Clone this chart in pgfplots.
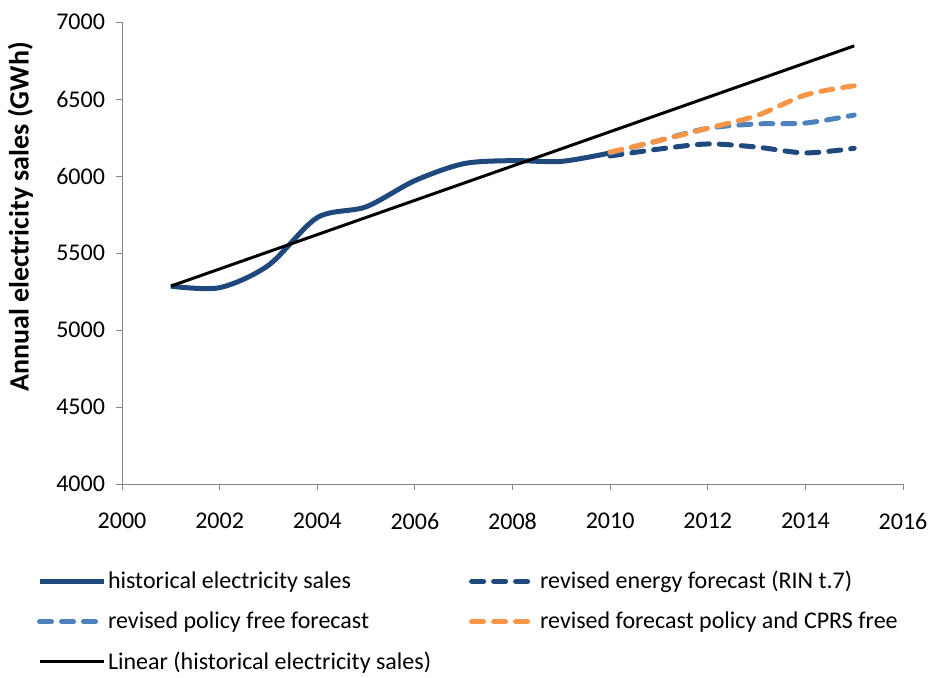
\documentclass[border=0pt]{standalone}
\usepackage{pgfplots}
\pgfplotsset{compat=1.18}
\usepackage{fontspec}
\setmainfont{Carlito}

\definecolor{histblue}{HTML}{1F497D}
\definecolor{lightblue}{HTML}{4F81BD}
\definecolor{forange}{HTML}{F79646}
\definecolor{axgray}{HTML}{868686}

\begin{document}
\begin{tikzpicture}[font=\fontsize{12}{14}\selectfont]
\useasboundingbox (-61pt,-96.5pt) rectangle (405pt,242pt);
\begin{axis}[
    at={(0pt,0pt)}, anchor=south west,
    scale only axis,
    width=390.5pt, height=231pt,
    xmin=2000, xmax=2016, ymin=4000, ymax=7000,
    xtick={2000,2002,...,2016},
    ytick={4000,4500,...,7000},
    x tick label style={/pgf/number format/1000 sep={}, yshift=-8pt},
    y tick label style={/pgf/number format/1000 sep={}, xshift=-2pt},
    /pgf/number format/assume math mode=true,
    axis x line=bottom, axis y line=left,
    axis line style={axgray, thin, -},
    tick style={axgray, thin},
    major tick length=3pt,
    tick align=outside,
    ylabel={\fontsize{14}{16}\selectfont\bfseries Annual electricity sales (GWh)},
    every axis y label/.style={at={(axis description cs:-0.13,0.578)}, rotate=90, anchor=center},
    clip=false,
    legend columns=2,
    legend cell align=left,
    legend style={
        draw=none, fill=none,
        at={(axis description cs:-0.117,-0.175)}, anchor=north west,
        row sep=8pt,
        /tikz/every even column/.append style={column sep=18pt},
        nodes={inner sep=1pt},
    },
    legend image code/.code={\draw[#1] (0pt,0pt) -- (32pt,0pt);},
]

% historical electricity sales
\addplot[histblue, line width=2.5pt, smooth, tension=0.5] coordinates {
    (2001,5285) (2002,5275) (2003,5420) (2004,5730) (2005,5800)
    (2006,5970) (2007,6080) (2008,6100) (2009,6095) (2010,6150)
};
\addlegendentry{historical electricity sales}

% revised energy forecast (RIN t.7)
\addplot[histblue, line width=2.5pt, dash pattern=on 6pt off 5pt, line cap=round, smooth, tension=0.5] coordinates {
    (2010,6130) (2011,6175) (2012,6208) (2013,6188) (2014,6150) (2015,6180)
};
\addlegendentry{revised energy forecast (RIN t.7)}

% revised policy free forecast
\addplot[lightblue, line width=2.5pt, dash pattern=on 6pt off 5pt, line cap=round, smooth, tension=0.5] coordinates {
    (2010,6150) (2011,6230) (2012,6310) (2013,6338) (2014,6344) (2015,6396)
};
\addlegendentry{revised policy free forecast}

% revised forecast policy and CPRS free
\addplot[forange, line width=2.5pt, dash pattern=on 6pt off 5pt, line cap=round, smooth, tension=0.5] coordinates {
    (2010,6155) (2011,6230) (2012,6310) (2013,6392) (2014,6526) (2015,6586)
};
\addlegendentry{revised forecast policy and CPRS free}

% linear trend of historical sales
\addplot[black, line width=1.5pt] coordinates {
    (2001,5285) (2015,6845)
};
\addlegendentry{Linear (historical electricity sales)}

\end{axis}
\end{tikzpicture}
\end{document}
